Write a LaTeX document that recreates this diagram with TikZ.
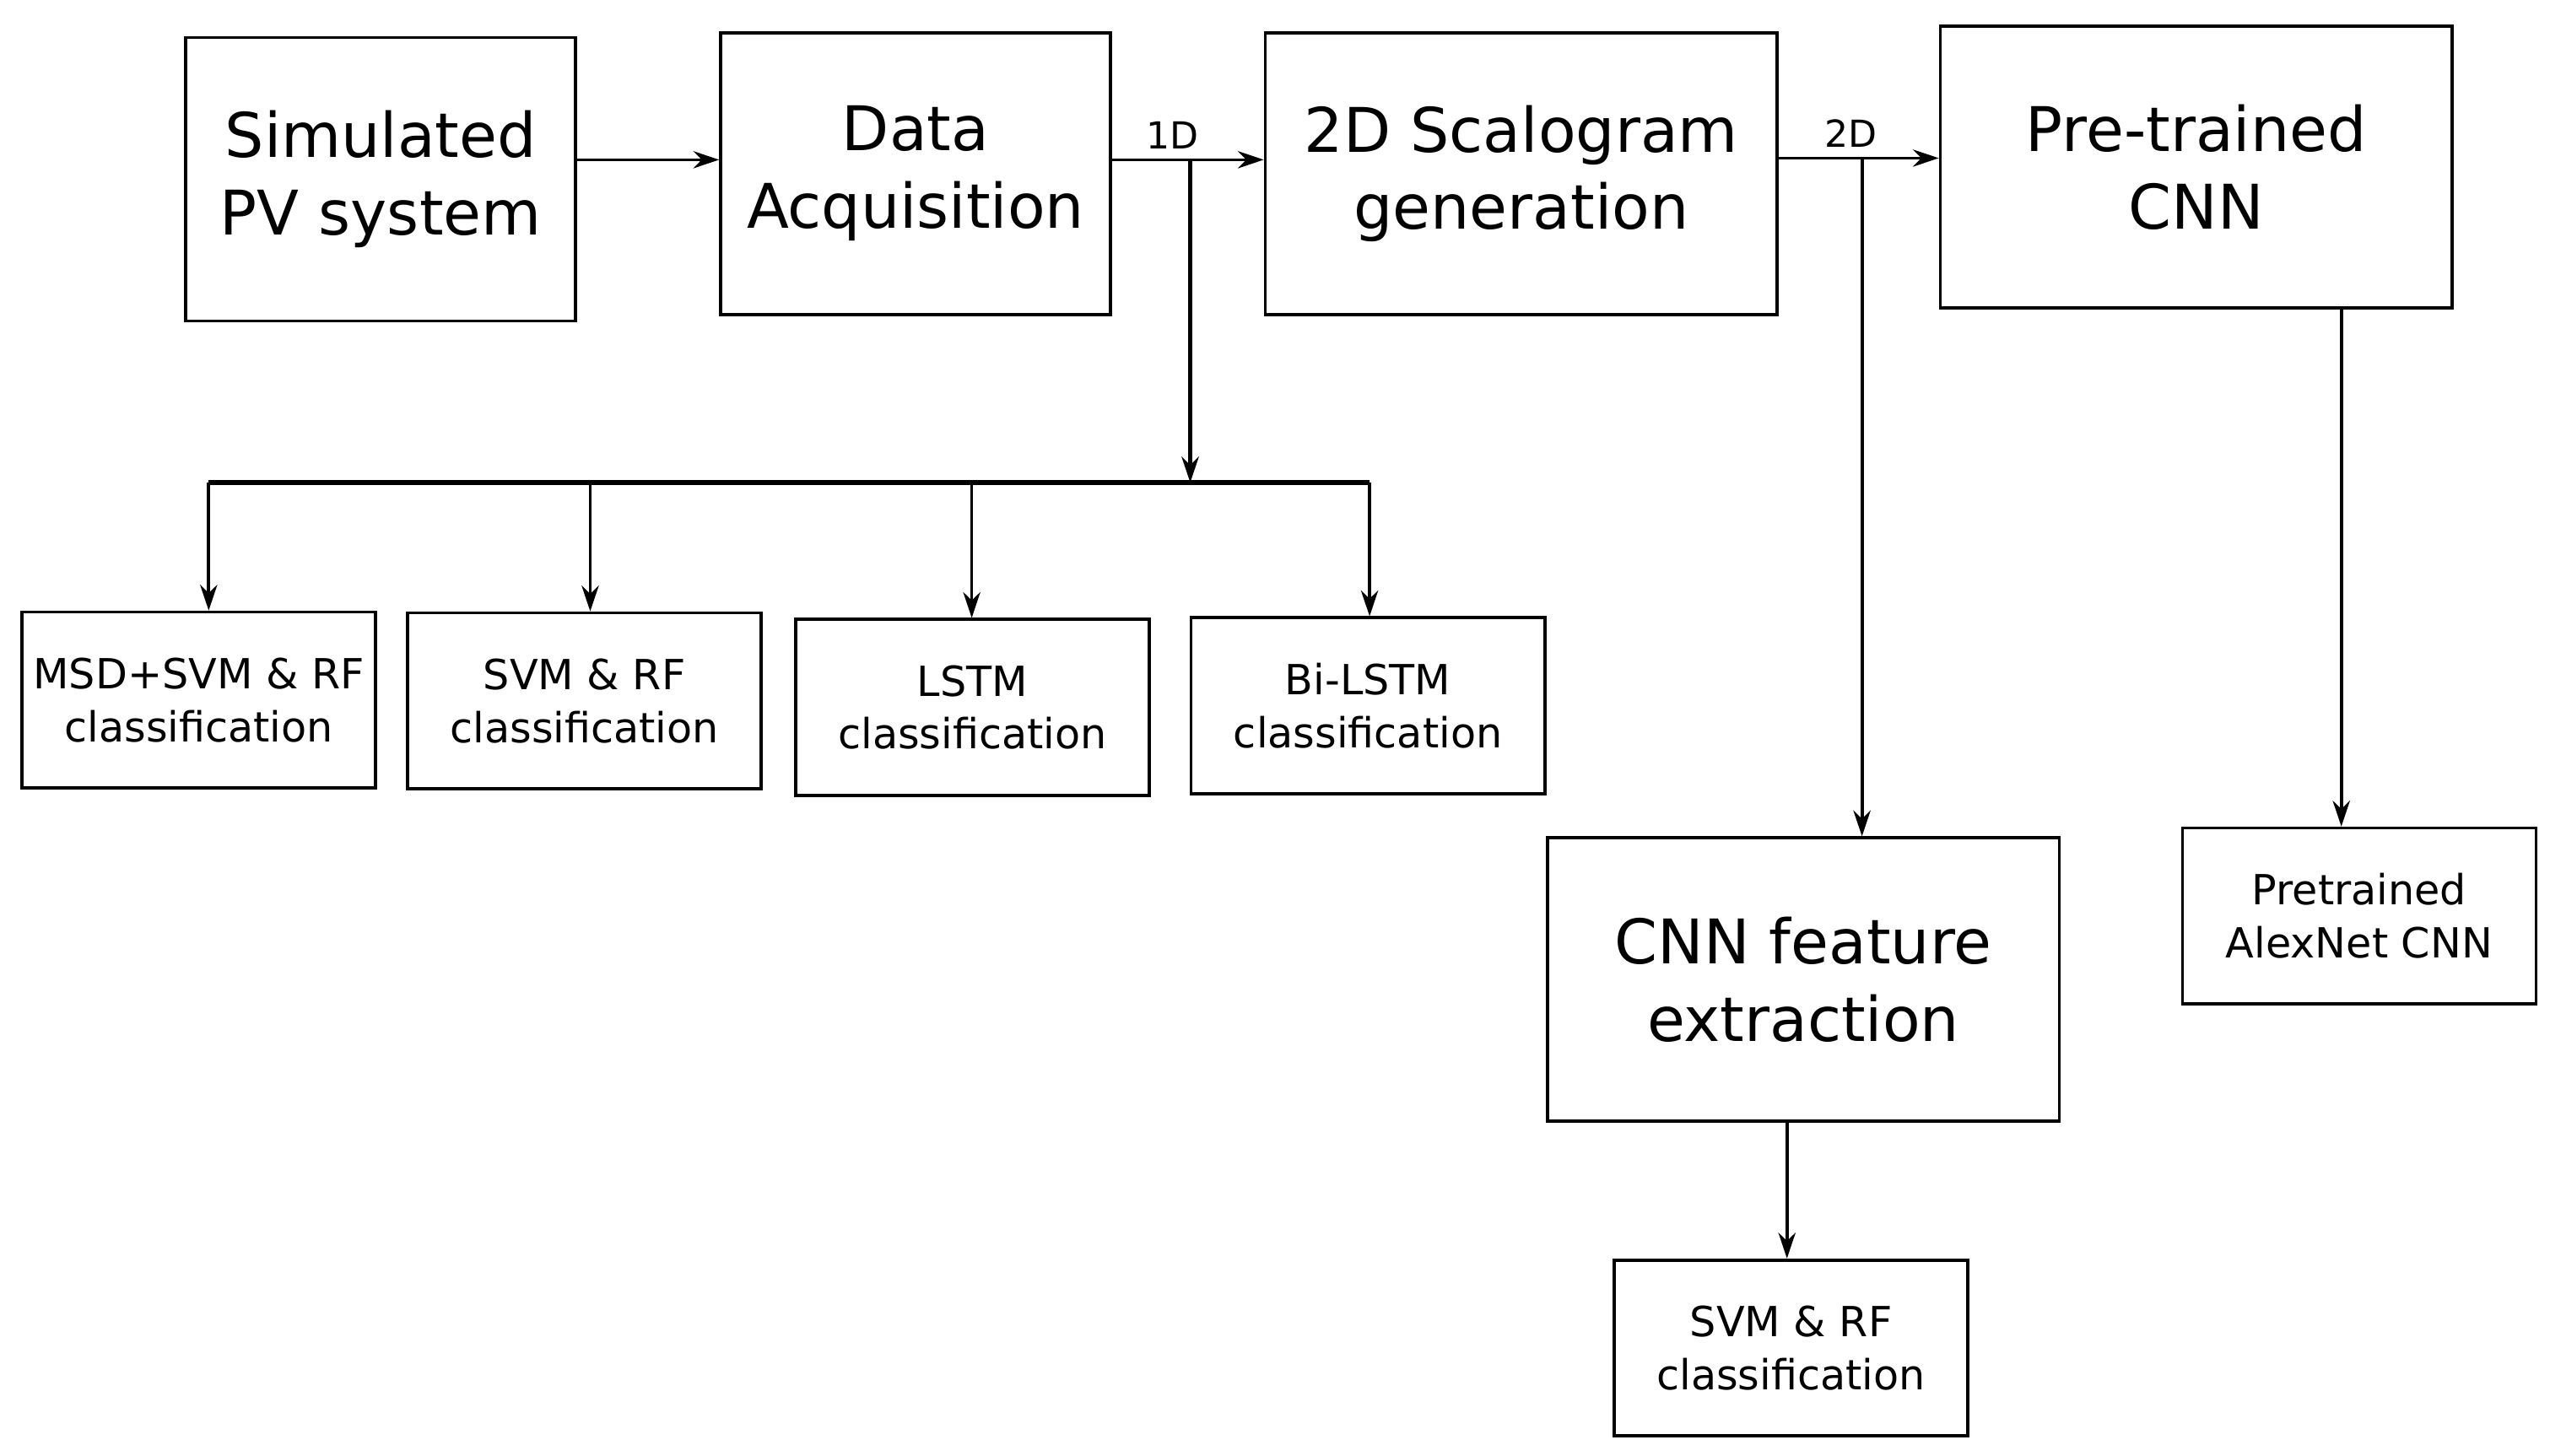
\documentclass[tikz,border=0pt]{standalone}
\usepackage{fontspec}
\setmainfont{DejaVu Sans}
\usetikzlibrary{arrows.meta}
\begin{document}
\begin{tikzpicture}[x=0.02cm,y=-0.02cm,line width=1.1pt,>={Stealth[length=9pt,width=6pt]}]
		\tikzstyle{big} = [rectangle,draw,align=center,font=\fontsize{21.5}{27}\selectfont,inner sep=0pt]
		\tikzstyle{small} = [rectangle,draw,align=center,font=\fontsize{14.5}{18.5}\selectfont,inner sep=0pt,minimum width=4.34cm,minimum height=2.16cm]
		\tikzstyle{lbl} = [font=\fontsize{13}{15}\selectfont,above]
		\tikzstyle{thick1d} = [line width=1.7pt]
		\useasboundingbox (0,0) rectangle (1564,893);
		
		\node[big,minimum width=4.78cm,minimum height=3.48cm] (pv) at (233.5,110) {Simulated\\PV system};
		\node[big,minimum width=4.78cm,minimum height=3.46cm] (daq) at (561.5,106.5) {Data\\Acquisition};
		\node[big,minimum width=6.28cm,minimum height=3.46cm] (scal) at (933,106.5) {2D Scalogram\\generation};
		\node[big,minimum width=6.28cm,minimum height=3.46cm] (cnn) at (1347,102.5) {Pre-trained\\CNN};
		
		\node[small] (msd) at (122,429.5) {MSD+SVM \& RF\\classification};
		\node[small] (svm) at (358.5,430) {SVM \& RF\\classification};
		\node[small] (lstm) at (596.5,434) {LSTM\\classification};
		\node[small] (bilstm) at (839,433) {Bi-LSTM\\classification};
		
		\node[big,minimum width=6.28cm,minimum height=3.48cm] (feat) at (1106,601) {CNN feature\\extraction};
		\node[small] (alex) at (1447,562) {Pretrained\\AlexNet CNN};
		\node[small] (svm2) at (1098.5,827) {SVM \& RF\\classification};
		
		\coordinate (b1) at (730,98);
		\coordinate (j1) at (730,296);
		\coordinate (l1) at (128,296);
		\coordinate (r1) at (840,296);
		\coordinate (b2) at (1142,97);
		
		\draw[->] (pv.east |- 0,98) -- (daq.west |- 0,98);
		\draw[->] (daq.east |- 0,98) -- node[lbl,pos=0.4] {1D} (scal.west |- 0,98);
		\draw[->] (scal.east |- 0,97) -- node[lbl,pos=0.45] {2D} (cnn.west |- 0,97);
		
		\draw[->,thick1d] (b1) -- (j1);
		\draw[thick1d] (l1) -- (r1);
		\draw[->] (l1) -- (msd.north -| l1);
		\draw[->] (362,296) -- (svm.north -| 362,0);
		\draw[->] (596,296) -- (lstm.north -| 596,0);
		\draw[->] (r1) -- (bilstm.north -| r1);
		
		\draw[->] (b2) -- (feat.north -| b2);
		\draw[->] (cnn.south -| 1436,0) -- (alex.north -| 1436,0);
		\draw[->] (feat.south -| 1096,0) -- (svm2.north -| 1096,0);
	\end{tikzpicture}
\end{document}
